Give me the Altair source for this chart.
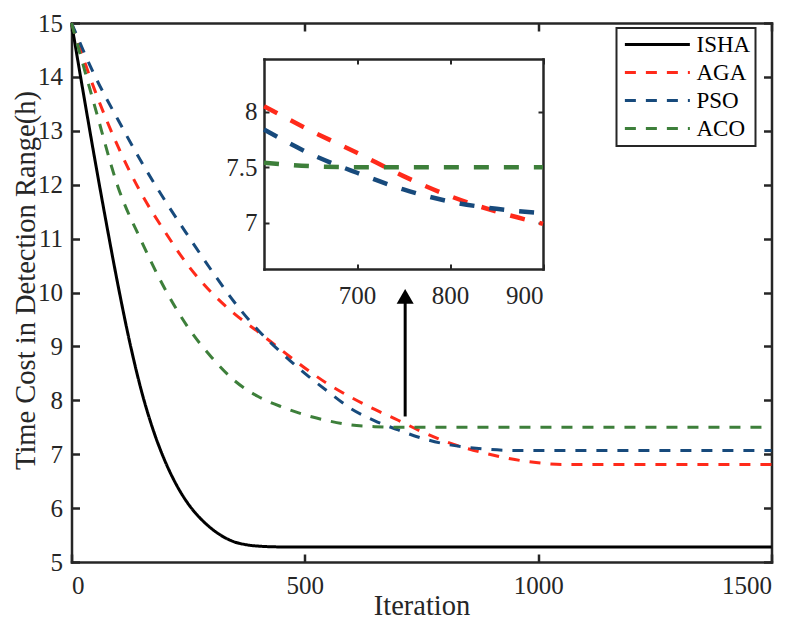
import altair as alt
import pandas as pd

# ---------------- data ----------------
SERIES = ["ISHA", "AGA", "PSO", "ACO"]
COLORS = ["#000000", "#ff2a1a", "#174a7c", "#3d7f3a"]

ISHA_X = [0, 25, 50, 75, 100, 125, 150, 175, 200, 225, 250, 275, 300, 325, 350, 375, 400, 450, 1500]
ISHA_Y = [15.0, 13.72, 12.47, 11.27, 10.12, 9.07, 8.17, 7.45, 6.88, 6.43, 6.08, 5.82, 5.62, 5.47, 5.37, 5.32, 5.295, 5.28, 5.28]

GRID_X = [0, 50, 100, 150, 200, 250, 300, 350, 400, 450, 500, 550, 600, 650, 700, 750, 800, 850, 900, 950, 1000, 1050, 1500]
AGA_Y = [15.0, 13.75, 12.7, 11.83, 11.13, 10.5, 10.0, 9.6, 9.27, 8.93, 8.6, 8.3, 8.05, 7.83, 7.63, 7.42, 7.24, 7.1, 6.99, 6.9, 6.84, 6.81, 6.81]
PSO_Y = [15.0, 14.02, 13.2, 12.42, 11.71, 11.05, 10.41, 9.81, 9.3, 8.88, 8.5, 8.16, 7.84, 7.62, 7.45, 7.3, 7.19, 7.125, 7.085, 7.07, 7.07, 7.07, 7.07]
ACO_Y = [15.0, 13.45, 11.95, 10.95, 10.07, 9.35, 8.8, 8.36, 8.07, 7.88, 7.73, 7.62, 7.54, 7.51, 7.5, 7.5, 7.5, 7.5, 7.5, 7.5, 7.5, 7.5, 7.5]

X_TICKS = [0, 500, 1000, 1500]
Y_TICKS = [5, 6, 7, 8, 9, 10, 11, 12, 13, 14, 15]
INSET_X_DOMAIN = [600, 900]
INSET_Y_DOMAIN = [6.583, 8.475]
INSET_X_TICKS = [700, 800, 900]
INSET_Y_TICKS = [7, 7.5, 8]

ARROW_X = [715]
ARROW_Y = [7.70]
ARROW_Y2 = [9.85]
ARROW_HEAD_Y = [9.93]

# ---------------- tables ----------------
rows = [{"iteration": x, "cost": y, "series": "ISHA"} for x, y in zip(ISHA_X, ISHA_Y)]
for name, ys in [("AGA", AGA_Y), ("PSO", PSO_Y), ("ACO", ACO_Y)]:
    rows += [{"iteration": x, "cost": y, "series": name} for x, y in zip(GRID_X, ys)]
df = pd.DataFrame(rows)
inset_df = df[(df.series != "ISHA") & (df.iteration >= INSET_X_DOMAIN[0]) & (df.iteration <= INSET_X_DOMAIN[1])]
arrow_df = pd.DataFrame({"ax": ARROW_X, "ay": ARROW_Y, "ay2": ARROW_Y2, "hy": ARROW_HEAD_Y})

# ---------------- layout ----------------
TOP = 23                      # page y of the plot top
BOTTOM = 562                  # page y of the plot bottom
W, H = 700, BOTTOM - TOP
FONT = "Times New Roman, Liberation Serif, serif"
AX = "#262626"
IN_X0, IN_X1 = 192.5, 471.5           # inset left/right in plot pixels
IN_Y0, IN_Y1 = 269 - TOP, 59 - TOP    # inset bottom/top in plot pixels


def ax(**kw):
    base = dict(grid=False, domainColor=AX, domainWidth=2.5, domainCap="square",
                tickColor=AX, tickWidth=2.5, labelFont=FONT, labelFontSize=25,
                labelColor=AX, titleFont=FONT, titleFontSize=28.5, titleColor=AX,
                titleFontWeight="normal")
    base.update(kw)
    return alt.Axis(**base)


xs_main = alt.Scale(domain=[0, 1500], nice=False, zero=False)
ys_main = alt.Scale(domain=[5, 15], nice=False, zero=False)
xs_in = alt.Scale(domain=INSET_X_DOMAIN, range=[IN_X0, IN_X1], nice=False, zero=False)
ys_in = alt.Scale(domain=INSET_Y_DOMAIN, range=[IN_Y0, IN_Y1], nice=False, zero=False)
color_scale = alt.Scale(domain=SERIES, range=COLORS)

legend = alt.Legend(title=None, orient="none", legendX=545, legendY=28 - TOP, direction="vertical",
                    symbolType="M-1,0H7", symbolSize=264, symbolStrokeWidth=3,
                    labelFont=FONT, labelFontSize=23, labelColor="black", labelOffset=52,
                    rowPadding=4, padding=5, strokeColor=AX, fillColor="white")

lines = alt.Chart(df).mark_line(strokeWidth=3, interpolate="monotone").encode(
    x=alt.X("iteration:Q", scale=xs_main,
            axis=ax(orient="bottom", values=X_TICKS, format="d", ticks=False, tickSize=0, labelPadding=11,
                    title="Iteration", titleX=350, titleY=52, titleBaseline="alphabetic")),
    y=alt.Y("cost:Q", scale=ys_main,
            axis=ax(orient="left", values=Y_TICKS, format="d", ticks=False, tickSize=0, labelPadding=9,
                    title="Time Cost in Detection Range(h)", titleX=-37, titleY=280 - TOP,
                    titleAngle=270, titleAlign="center", titleBaseline="alphabetic")),
    color=alt.Color("series:N", scale=color_scale, legend=legend),
    strokeDash=alt.StrokeDash("series:N",
                              scale=alt.Scale(domain=SERIES, range=[[1, 0], [11, 10], [11, 10], [11, 10]]),
                              legend=legend),
)

ticks_a = alt.Chart(df).mark_line(opacity=0).encode(
    x=alt.X("iteration:Q", scale=xs_main,
            axis=ax(orient="top", offset=-H, values=X_TICKS, labels=False, domain=False, tickSize=8, title="")),
    y=alt.Y("cost:Q", scale=ys_main,
            axis=ax(orient="right", offset=-W, values=Y_TICKS, labels=False, domain=False, tickSize=8, title="")),
    detail="series:N",
)
ticks_b = alt.Chart(df).mark_line(opacity=0).encode(
    x=alt.X("iteration:Q", scale=xs_main,
            axis=ax(orient="bottom", offset=-H, values=X_TICKS, labels=False, tickSize=8, title="")),
    y=alt.Y("cost:Q", scale=ys_main,
            axis=ax(orient="left", offset=-W, values=Y_TICKS, labels=False, tickSize=8, title="")),
    detail="series:N",
)

shaft = alt.Chart(arrow_df).mark_rule(color="black", strokeWidth=3).encode(
    x=alt.X("ax:Q", scale=xs_main, axis=None),
    y=alt.Y("ay:Q", scale=ys_main, axis=None),
    y2="ay2:Q",
)
head = alt.Chart(arrow_df).mark_point(shape="triangle-up", filled=True, color="black", size=290, opacity=1).encode(
    x=alt.X("ax:Q", scale=xs_main, axis=None),
    y=alt.Y("hy:Q", scale=ys_main, axis=None),
)

main = alt.layer(lines, ticks_a, ticks_b, shaft, head).resolve_axis(x="independent", y="independent")

# ---------------- inset ----------------
inset_lines = alt.Chart(inset_df).mark_line(strokeWidth=4.5, strokeDash=[15, 15], interpolate="monotone").encode(
    x=alt.X("iteration:Q", scale=xs_in,
            axis=ax(orient="bottom", offset=-(H - IN_Y0), values=INSET_X_TICKS, format="d", ticks=False,
                    tickSize=0, labelPadding=14, title="")),
    y=alt.Y("cost:Q", scale=ys_in,
            axis=ax(orient="left", offset=-IN_X0, values=INSET_Y_TICKS, format="~g", ticks=False,
                    tickSize=0, labelPadding=7, title="")),
    color=alt.Color("series:N", scale=color_scale, legend=None),
)
inset_ticks_a = alt.Chart(inset_df).mark_line(opacity=0).encode(
    x=alt.X("iteration:Q", scale=xs_in,
            axis=ax(orient="top", offset=-IN_Y0, values=INSET_X_TICKS, labels=False, domain=False,
                    tickSize=5, tickWidth=2, title="")),
    y=alt.Y("cost:Q", scale=ys_in,
            axis=ax(orient="right", offset=IN_X0 - W, values=INSET_Y_TICKS, labels=False, domain=False,
                    tickSize=5, tickWidth=2, title="")),
    detail="series:N",
)
inset_ticks_b = alt.Chart(inset_df).mark_line(opacity=0).encode(
    x=alt.X("iteration:Q", scale=xs_in,
            axis=ax(orient="bottom", offset=-(H - IN_Y1), values=INSET_X_TICKS, labels=False,
                    tickSize=5, tickWidth=2, title="")),
    y=alt.Y("cost:Q", scale=ys_in,
            axis=ax(orient="left", offset=-IN_X1, values=INSET_Y_TICKS, labels=False,
                    tickSize=5, tickWidth=2, title="")),
    detail="series:N",
)
inset = alt.layer(inset_lines, inset_ticks_a, inset_ticks_b).resolve_axis(x="independent", y="independent")

chart = alt.layer(main, inset).resolve_scale(x="independent", y="independent").properties(
    width=W, height=H,
    autosize=alt.AutoSizeParams(type="none"),
    padding={"left": 63.5, "top": TOP - 8, "right": 20, "bottom": 58},
    background="white",
).configure_view(strokeWidth=0).configure_legend(strokeWidth=2)

chart.save("out.html", embed_options={"renderer": "svg", "actions": False})
